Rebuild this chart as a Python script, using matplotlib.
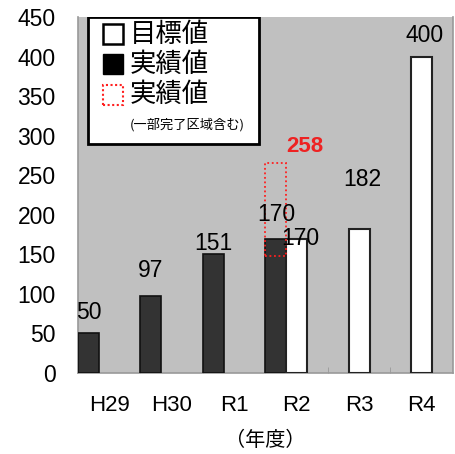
import matplotlib.pyplot as plt
from matplotlib.patches import Rectangle
import numpy as np

# 年度ごとの値
years = ['H29', 'H30', 'R1', 'R2', 'R3', 'R4']
actual = [50, 97, 151, 170, None, None]       # 実績値
target = [None, None, None, 170, 182, 400]    # 目標値
partial_low, partial_high = 148, 265          # 実績値（一部完了区域含む）の点線枠
partial_label = 258

# ラベルの縦位置（データ単位）
actual_label_y = [77, 130, 164, 200]
target_label_y = [None, None, None, 170, 244, 426]

plt.rcParams['font.family'] = ['Liberation Sans', 'Noto Sans CJK JP', 'DejaVu Sans']
jp = ['Noto Sans CJK JP', 'DejaVu Sans']

fig = plt.figure(figsize=(4.56, 4.54), dpi=100)
ax = fig.add_axes([78 / 456, 81 / 454, 375 / 456, 356 / 454])
ax.set_facecolor('#c0c0c0')

x = np.arange(len(years))
w = 1 / 3

# 実績値（黒）
for i, v in enumerate(actual):
    if v is None:
        continue
    ax.bar(x[i] - w, v, width=w, color='#333333', edgecolor='#111111', linewidth=1.2, zorder=3)
    ax.text(x[i] - w, actual_label_y[i], str(v), ha='center', va='center', fontsize=16.5, zorder=5)

# 目標値（白）
for i, v in enumerate(target):
    if v is None:
        continue
    ax.bar(x[i], v, width=w, color='white', edgecolor='#222222', linewidth=1.5, zorder=3)
    ax.text(x[i] + 0.05, target_label_y[i], str(v), ha='center', va='center', fontsize=16.5, zorder=5)

# 点線枠
ax.add_patch(Rectangle((x[3] - 1.5 * w, partial_low), w, partial_high - partial_low,
                       fill=False, edgecolor='#ff2020', linestyle=(0, (1, 1.5)), linewidth=1.3, zorder=4))
ax.text(x[3] + 0.13, 286, str(partial_label), color='#ee2222', fontweight='bold',
        ha='center', va='center', fontsize=16, zorder=5)

ax.set_xlim(-0.5, 5.5)
ax.set_ylim(0, 450)
ax.set_yticks(np.arange(0, 451, 50))
ax.set_xticks(x)
ax.set_xticklabels(years)
ax.set_xticks(x[:-1] + 0.5, minor=True)
ax.tick_params(axis='y', length=0, pad=16, labelsize=16.5)
ax.tick_params(axis='x', which='major', length=0, pad=16, labelsize=16)
ax.tick_params(axis='x', which='minor', direction='in', length=4, color='#999999')
for s in ['left', 'bottom', 'right']:
    ax.spines[s].set_color('#999999')
    ax.spines[s].set_linewidth(1.2)
ax.spines['top'].set_visible(False)

ax.set_xlabel('（年度）', family=jp, fontsize=14.5, labelpad=10)

# 凡例（手描き）
ax.add_patch(Rectangle((0.027, 0.643), 0.456, 0.357, transform=ax.transAxes,
                       facecolor='white', edgecolor='black', linewidth=2, zorder=6))
sq = 20 / 375
sqh = 20 / 356
rows = [0.951, 0.867, 0.782]
ax.add_patch(Rectangle((0.067, rows[0] - sqh / 2), sq, sqh, transform=ax.transAxes,
                       facecolor='white', edgecolor='black', linewidth=1.8, zorder=7))
ax.add_patch(Rectangle((0.067, rows[1] - sqh / 2), sq, sqh, transform=ax.transAxes,
                       facecolor='black', edgecolor='black', linewidth=1.0, zorder=7))
ax.add_patch(Rectangle((0.067, rows[2] - sqh / 2), sq, sqh, transform=ax.transAxes,
                       facecolor='white', edgecolor='#ff2020', linestyle=(0, (1, 1.2)), linewidth=1.5, zorder=7))
for y, t in zip(rows, ['目標値', '実績値', '実績値']):
    ax.text(0.139, y, t, transform=ax.transAxes, family=jp, fontsize=19,
            ha='left', va='center', zorder=8)
ax.text(0.139, 0.698, '(一部完了区域含む)', transform=ax.transAxes, family=jp, fontsize=9.5,
        ha='left', va='center', zorder=8)

fig.savefig('out.png', dpi=100)
